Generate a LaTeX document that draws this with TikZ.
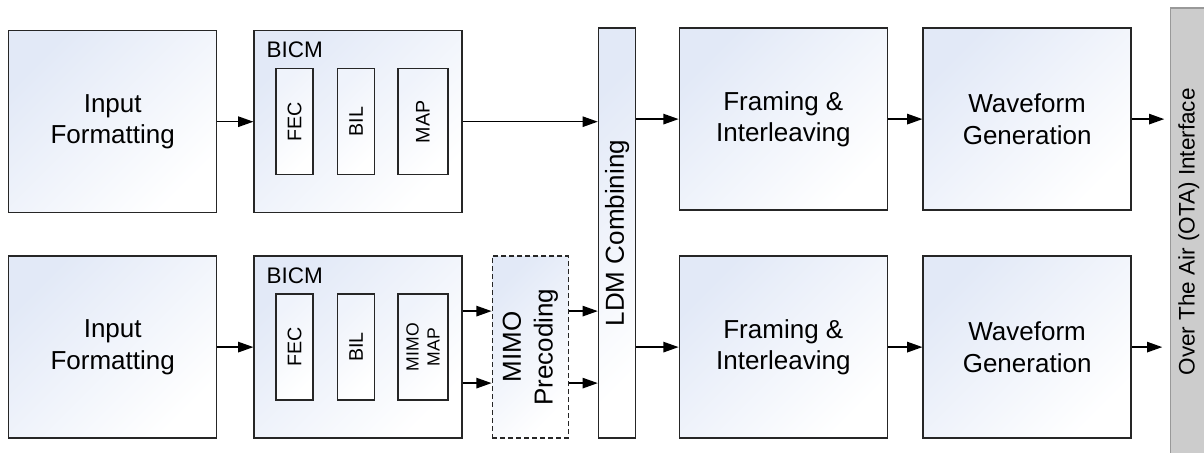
\documentclass[tikz,border=0pt]{standalone}
\usepackage{fontspec}
\setmainfont{Liberation Sans}
\usetikzlibrary{arrows.meta,positioning,calc}

\definecolor{boxtop}{RGB}{226,233,247}
\definecolor{otagray}{RGB}{204,204,204}

\begin{document}
\begin{tikzpicture}[
    node distance=10.5mm and 9mm,
    every node/.style={
        align=center,
        inner sep=0pt
    },
    block/.style={
        draw=black!85,
        line width=1pt,
        top color=boxtop,
        bottom color=white,
        shading angle=45,
        minimum width=52mm,
        minimum height=45.5mm,
        font=\fontsize{18.5}{22.5}\selectfont
    },
    stage/.style={
        draw=black!85,
        line width=1pt,
        top color=boxtop!55,
        bottom color=white,
        shading angle=45,
        minimum width=9.25mm,
        minimum height=26.5mm
    },
    title/.style={
        anchor=west,
        font=\fontsize{16}{19}\selectfont
    },
    vtext/.style={
        rotate=90,
        font=\fontsize{18.5}{22.5}\selectfont
    },
    vsmall/.style={
        rotate=90,
        font=\fontsize{14}{16}\selectfont
    },
    otabar/.style={
        draw=black!40,
        fill=otagray,
        line width=0.8pt,
        minimum width=9mm,
        minimum height=112mm
    },
    connector/.style={
        draw=black,
        line width=1pt,
        -{Triangle[length=3.8mm,width=2.6mm]}
    }
]

\useasboundingbox (0,0) rectangle (301mm,-113.25mm);

% ============================================================
% Input formatting and BICM
% ============================================================

\node[block, anchor=north west] (fmt1) at (2mm,-7.5mm)
{Input\\Formatting};

\node[block, right=of fmt1] (bicm1) {};

\node[block, below=of fmt1] (fmt2)
{Input\\Formatting};

\node[block, below=of bicm1] (bicm2) {};

% BICM stages, upper branch
\node[title] (bicm1title)
    at ($(bicm1.north west)+(3.25mm,-5mm)$) {BICM};

\node[stage, anchor=west] (fec1)
    at ($(bicm1.west)+(5.5mm,0)$) {};
\node[stage, right=5.75mm of fec1] (bil1) {};
\node[stage, minimum width=12.5mm, right=5.5mm of bil1] (map1) {};

\node[vsmall] (fec1text) at (fec1) {FEC};
\node[vsmall] (bil1text) at (bil1) {BIL};
\node[vsmall] (map1text) at (map1) {MAP};

% BICM stages, lower branch
\node[title] (bicm2title)
    at ($(bicm2.north west)+(3.25mm,-5mm)$) {BICM};

\node[stage, anchor=west] (fec2)
    at ($(bicm2.west)+(5.5mm,0)$) {};
\node[stage, right=5.75mm of fec2] (bil2) {};
\node[stage, minimum width=12.5mm, right=5.5mm of bil2] (map2) {};

\node[vsmall] (fec2text) at (fec2) {FEC};
\node[vsmall] (bil2text) at (bil2) {BIL};
\node[vsmall, font=\fontsize{12.5}{15}\selectfont] (map2text) at (map2)
{MIMO\\MAP};

% ============================================================
% MIMO precoding and LDM combining
% ============================================================

\node[block, dashed, dash pattern=on 1.25mm off 0.75mm,
      minimum width=19mm, right=7.2mm of bicm2] (mimo) {};
\node[vtext] (mimotext) at (mimo) {MIMO\\Precoding};

\node[block, minimum width=9.25mm, minimum height=102.5mm,
      anchor=south west] (ldm)
    at ($(mimo.south east)+(7.2mm,0)$) {};
\node[vtext] (ldmtext) at (ldm) {LDM Combining};

% ============================================================
% Framing, waveform and OTA interface
% ============================================================

\node[block, anchor=north west] (frame1)
    at ($(ldm.north east)+(10.6mm,0)$) {Framing \&\\Interleaving};

\node[block] (frame2) at (frame1 |- bicm2)
{Framing \&\\Interleaving};

\node[block, right=8.6mm of frame1] (wave1)
{Waveform\\Generation};

\node[block, right=8.6mm of frame2] (wave2)
{Waveform\\Generation};

\node[otabar, anchor=north west] (ota)
    at ($(wave1.north east)+(9.6mm,5mm)$) {};
\node[vtext, font=\fontsize{16}{19}\selectfont] (otatext) at (ota)
{Over The Air (OTA) Interface};

% ============================================================
% Connectors
% ============================================================

\coordinate (bicmUp)   at ($(bicm2.east)+(0,9mm)$);
\coordinate (bicmDown) at ($(bicm2.east)+(0,-9mm)$);
\coordinate (mimoUp)   at ($(mimo.east)+(0,9mm)$);
\coordinate (mimoDown) at ($(mimo.east)+(0,-9mm)$);

\draw[connector] (fmt1) -- (bicm1);
\draw[connector] (fmt2) -- (bicm2);

\draw[connector] (bicm1) -- (bicm1 -| ldm.west);

\draw[connector] (bicmUp) -- (bicmUp -| mimo.west);
\draw[connector] (bicmDown) -- (bicmDown -| mimo.west);

\draw[connector] (mimoUp) -- (mimoUp -| ldm.west);
\draw[connector] (mimoDown) -- (mimoDown -| ldm.west);

\draw[connector] (ldm.east |- frame1) -- (frame1);
\draw[connector] (ldm.east |- frame2) -- (frame2);

\draw[connector] (frame1) -- (wave1);
\draw[connector] (frame2) -- (wave2);

\draw[connector, shorten >=1.5mm] (wave1) -- (wave1 -| ota.west);
\draw[connector, shorten >=2mm] (wave2) -- (wave2 -| ota.west);

\end{tikzpicture}
\end{document}
